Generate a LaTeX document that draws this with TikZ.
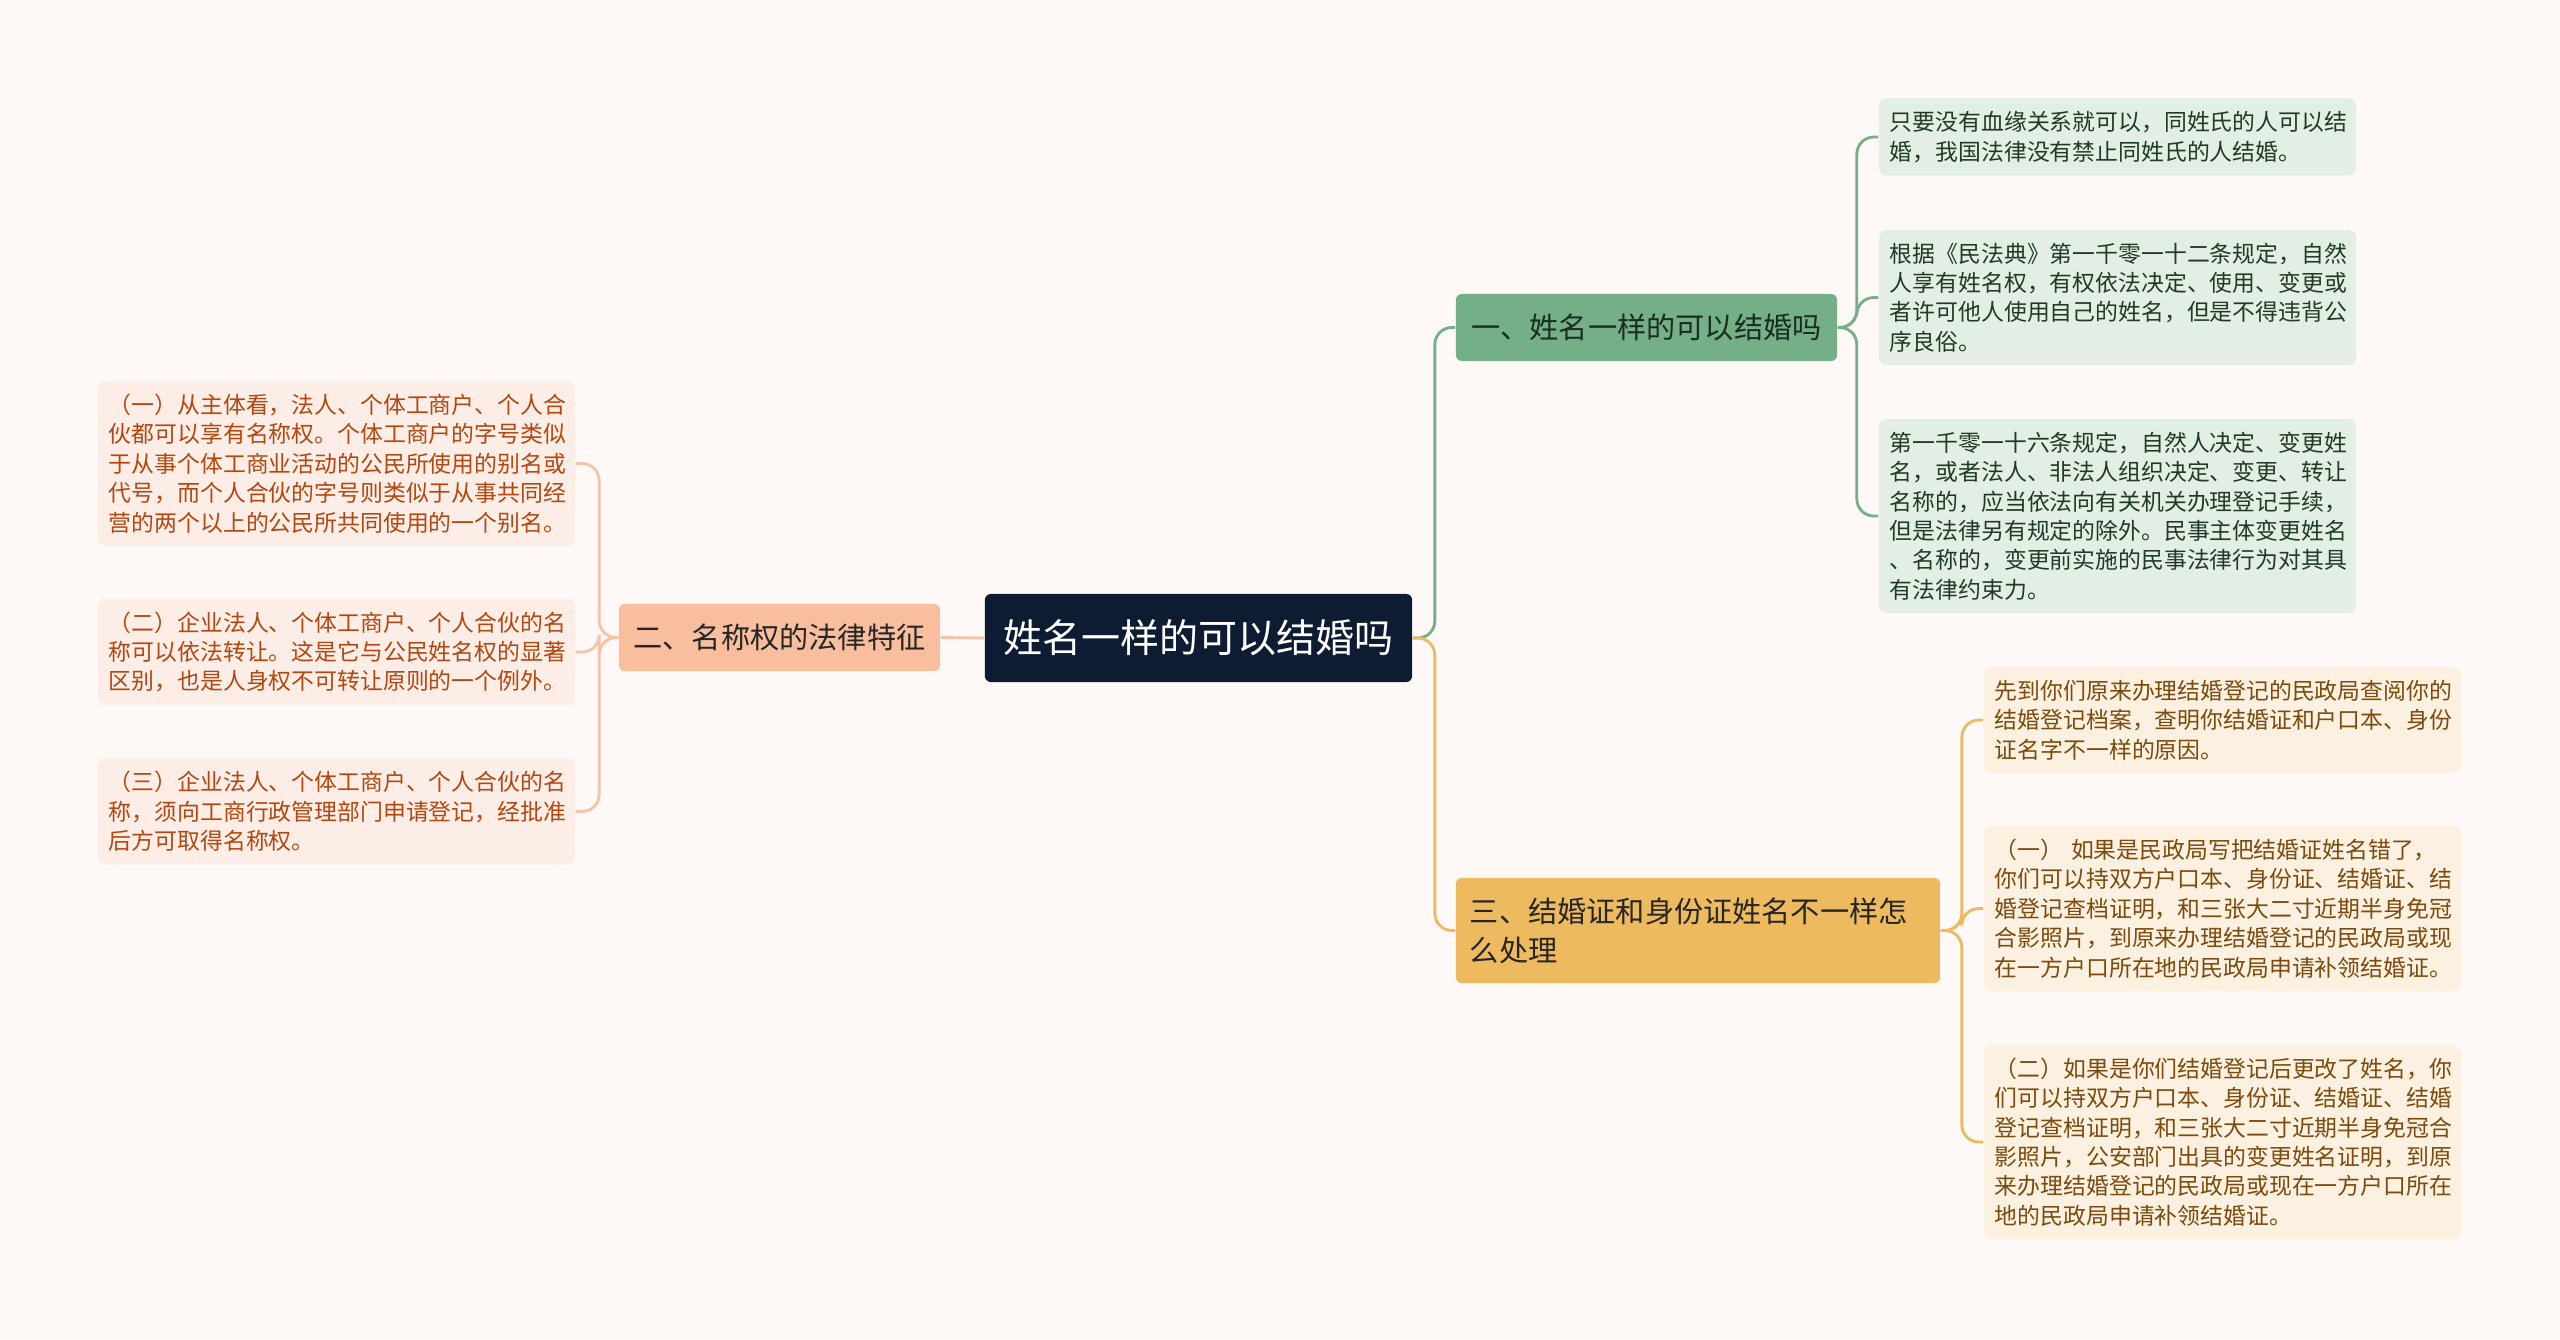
\documentclass[tikz,border=0pt]{standalone}
\usepackage{fontspec}
\setmainfont{Noto Sans CJK SC}
\usetikzlibrary{positioning}
\definecolor{bgcol}{HTML}{FEF9F7}
\definecolor{rootcol}{HTML}{0E1C33}
\definecolor{greencol}{HTML}{74AF87}
\definecolor{greenleaf}{HTML}{E3EFE5}
\definecolor{greentext}{HTML}{1F3A26}
\definecolor{yellowcol}{HTML}{EEBA60}
\definecolor{yellowleaf}{HTML}{FCF1E1}
\definecolor{yellowtext}{HTML}{7B4A0C}
\definecolor{orangecol}{HTML}{F9BE9E}
\definecolor{orangeleaf}{HTML}{FCEEE6}
\definecolor{orangetext}{HTML}{B4460F}
\definecolor{orangeline}{HTML}{F5C3A6}
\newcommand{\leaffont}{\fontsize{6.5pt}{8.35pt}\selectfont}

\begin{document}
\begin{tikzpicture}[x=0.01cm, y=-0.01cm]
    \tikzset{rootbox/.style={fill=rootcol, text=white, rounded corners=0.06cm, minimum width=4.27cm, minimum height=0.88cm, font=\fontsize{11.1pt}{13pt}\selectfont},
        branchbox/.style={rounded corners=0.06cm, minimum height=0.67cm, inner xsep=0.14cm, text=black!85, font=\fontsize{8.3pt}{11.1pt}\selectfont},
        leafbox/.style={rounded corners=0.08cm, text width=4.55cm, inner xsep=0.11cm, inner ysep=0.13cm, align=left, font=\leaffont},
        link/.style={line width=0.8pt, rounded corners=0.17cm}
    }

    \useasboundingbox (0,0) rectangle (2560,1339);
    \fill[bgcol] (0,0) rectangle (2560,1339);

    % centre and main topics
    \node (Root) [rootbox] at (1198.5,638) {姓名一样的可以结婚吗};
    \node (Br1) [branchbox, fill=greencol, minimum width=3.81cm, text=greentext!80!black] at (1646.5,327.5) {一、姓名一样的可以结婚吗};
    \node (Br2) [branchbox, fill=orangecol, minimum width=3.21cm] at (779.5,637.5) {二、名称权的法律特征};
    \node (Br3) [branchbox, fill=yellowcol, minimum width=4.84cm, minimum height=1.05cm, text width=4.56cm, align=left] at (1698,930.5) {三、结婚证和身份证姓名不一样怎\\么处理};

    % details of topic one
    \node (Br1-Leaf1) [leafbox, fill=greenleaf, text=greentext] at (2117.5,137) {只要没有血缘关系就可以，同姓氏的人可以结\\婚，我国法律没有禁止同姓氏的人结婚。};
    \node (Br1-Leaf2) [leafbox, fill=greenleaf, text=greentext] at (2117.5,297.5) {根据《民法典》第一千零一十二条规定，自然\\人享有姓名权，有权依法决定、使用、变更或\\者许可他人使用自己的姓名，但是不得违背公\\序良俗。};
    \node (Br1-Leaf3) [leafbox, fill=greenleaf, text=greentext] at (2117.5,516) {第一千零一十六条规定，自然人决定、变更姓\\名，或者法人、非法人组织决定、变更、转让\\名称的，应当依法向有关机关办理登记手续，\\但是法律另有规定的除外。民事主体变更姓名\\、名称的，变更前实施的民事法律行为对其具\\有法律约束力。};

    % details of topic two
    \node (Br2-Leaf1) [leafbox, fill=orangeleaf, text=orangetext] at (336.5,463.5) {（一）从主体看，法人、个体工商户、个人合\\伙都可以享有名称权。个体工商户的字号类似\\于从事个体工商业活动的公民所使用的别名或\\代号，而个人合伙的字号则类似于从事共同经\\营的两个以上的公民所共同使用的一个别名。};
    \node (Br2-Leaf2) [leafbox, fill=orangeleaf, text=orangetext] at (336.5,652) {（二）企业法人、个体工商户、个人合伙的名\\称可以依法转让。这是它与公民姓名权的显著\\区别，也是人身权不可转让原则的一个例外。};
    \node (Br2-Leaf3) [leafbox, fill=orangeleaf, text=orangetext] at (336.5,811.5) {（三）企业法人、个体工商户、个人合伙的名\\称，须向工商行政管理部门申请登记，经批准\\后方可取得名称权。};

    % details of topic three
    \node (Br3-Leaf1) [leafbox, fill=yellowleaf, text=yellowtext] at (2222.5,720) {先到你们原来办理结婚登记的民政局查阅你的\\结婚登记档案，查明你结婚证和户口本、身份\\证名字不一样的原因。};
    \node (Br3-Leaf2) [leafbox, fill=yellowleaf, text=yellowtext] at (2222.5,908.5) {（一） 如果是民政局写把结婚证姓名错了，\\你们可以持双方户口本、身份证、结婚证、结\\婚登记查档证明，和三张大二寸近期半身免冠\\合影照片，到原来办理结婚登记的民政局或现\\在一方户口所在地的民政局申请补领结婚证。};
    \node (Br3-Leaf3) [leafbox, fill=yellowleaf, text=yellowtext] at (2222.5,1142) {（二）如果是你们结婚登记后更改了姓名，你\\们可以持双方户口本、身份证、结婚证、结婚\\登记查档证明，和三张大二寸近期半身免冠合\\影照片，公安部门出具的变更姓名证明，到原\\来办理结婚登记的民政局或现在一方户口所在\\地的民政局申请补领结婚证。};

    % connectors
    \draw [link, greencol] (Root.east) -- ++(22,0) |- (Br1.west);
    \draw [link, yellowcol] (Root.east) -- ++(22,0) |- (Br3.west);
    \draw [link, orangeline] (Root.west) -- (Br2.east);
    \foreach \i in {1,2,3} {
        \draw [link, greencol] (Br1.east) -- ++(19,0) |- (Br1-Leaf\i.west);
        \draw [link, orangeline] (Br2.west) -- ++(-19,0) |- (Br2-Leaf\i.east);
        \draw [link, yellowcol] (Br3.east) -- ++(21,0) |- (Br3-Leaf\i.west);
    }
\end{tikzpicture}
\end{document}
